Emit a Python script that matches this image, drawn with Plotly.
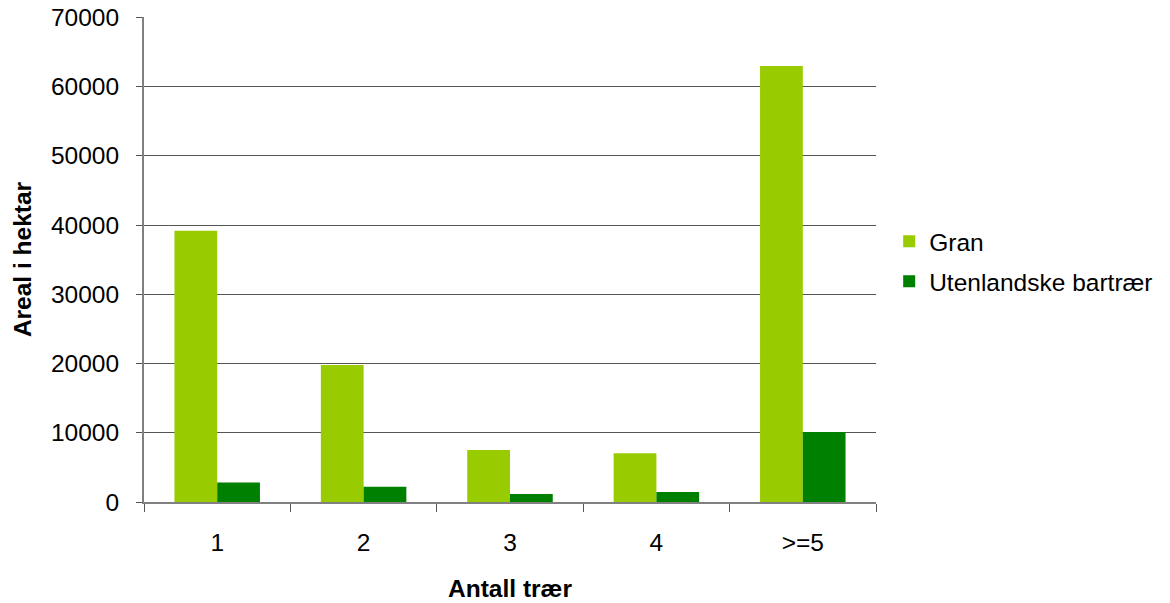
import plotly.graph_objects as go

categories = ["1", "2", "3", "4", ">=5"]
gran = [39200, 19800, 7500, 7050, 63000]
utenlandske = [2800, 2200, 1150, 1450, 10100]
y_ticks = [0, 10000, 20000, 30000, 40000, 50000, 60000, 70000]

FONT = "Liberation Sans, Arial, sans-serif"
FS = 24.5

fig = go.Figure()
fig.add_trace(go.Bar(x=categories, y=gran, name="Gran", marker_color="#99CC00",
                     marker_line_width=0, legendgroup="a"))
fig.add_trace(go.Bar(x=categories, y=utenlandske, name="Utenlandske bartrær",
                     marker_color="#008000", marker_line_width=0, legendgroup="b"))

fig.update_layout(
    width=1170, height=603,
    margin=dict(l=144, r=294, t=17, b=101),
    paper_bgcolor="white", plot_bgcolor="white",
    barmode="group", bargap=0.416, bargroupgap=0,
    font=dict(family=FONT, size=FS, color="black"),
    legend=dict(x=1.018, y=0.496, xanchor="left", yanchor="middle",
                font=dict(size=FS), tracegroupgap=5, traceorder="grouped",
                itemclick=False),
)
fig.update_xaxes(
    type="category", tickson="boundaries", ticks="outside", ticklen=8,
    tickcolor="#555555", showline=True, linecolor="#808080", linewidth=2,
    showgrid=False, tickfont=dict(size=FS), ticklabelstandoff=18,
    automargin=False,
    title=dict(text="<b>Antall trær</b>", font=dict(size=FS), standoff=24),
)
fig.update_yaxes(
    range=[0, 70070], tickvals=y_ticks, ticktext=[str(v) for v in y_ticks],
    ticks="outside", ticklen=6, tickcolor="#555555",
    showline=True, linecolor="#808080", linewidth=2,
    showgrid=True, gridcolor="#555555", gridwidth=1, zeroline=False,
    tickfont=dict(size=FS), ticklabelstandoff=12, automargin=False,
    title=dict(text="<b>Areal i hektar</b>", font=dict(size=FS), standoff=12),
)

fig.write_html("out.html", config={"displayModeBar": False},
               post_script="document.body.style.margin='0';")
